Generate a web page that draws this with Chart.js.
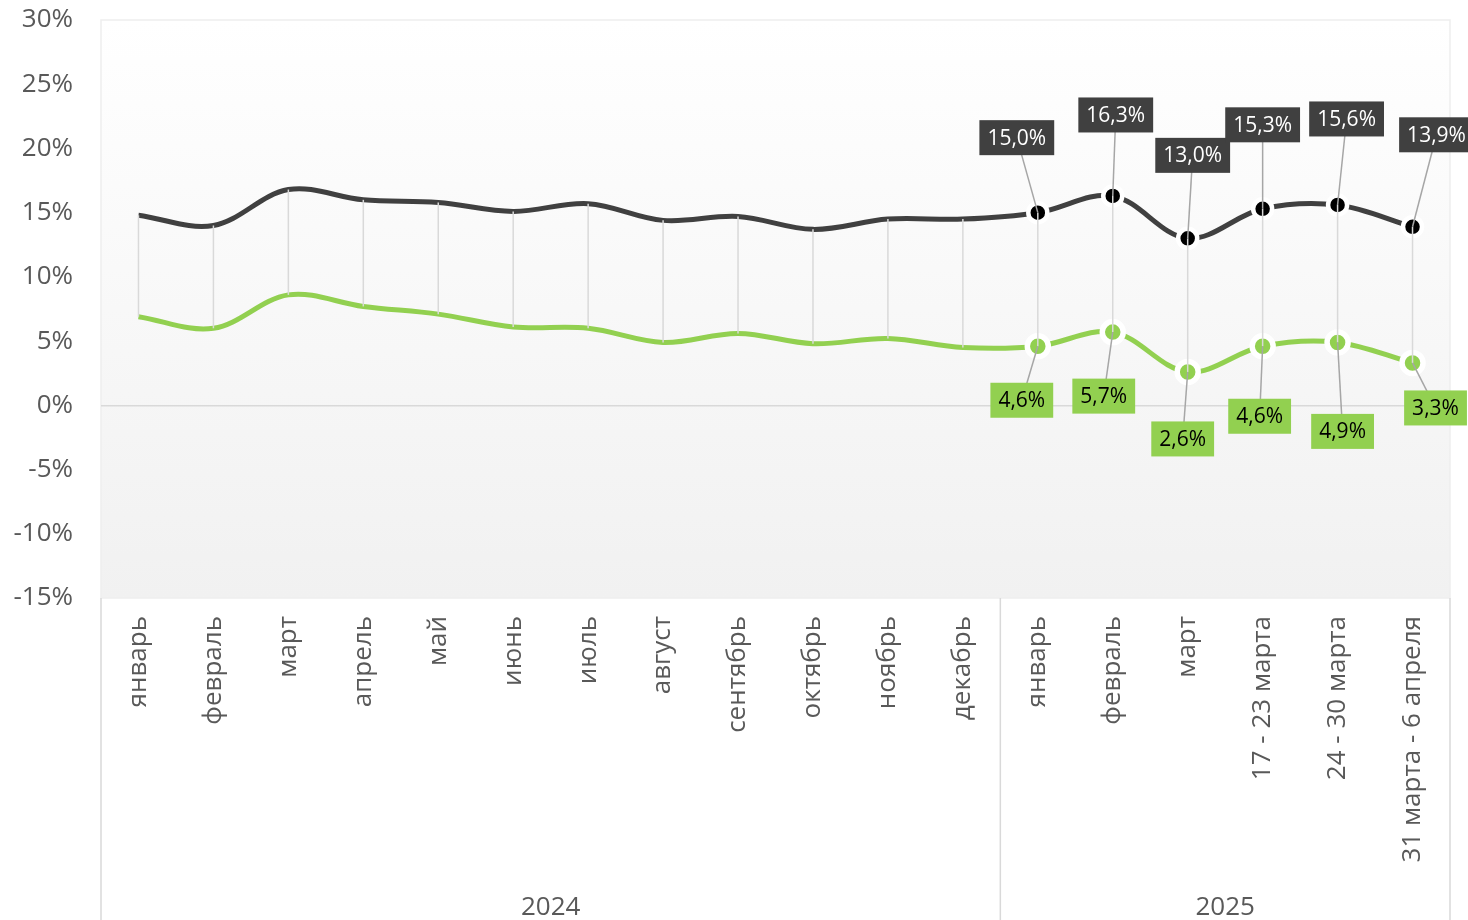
<!DOCTYPE html>
<html>
<head>
<meta charset="utf-8">
<script src="https://cdn.jsdelivr.net/npm/chart.js@4.4.1/dist/chart.umd.min.js"></script>
<style>
html,body{margin:0;padding:0;background:#fff;}
canvas{display:block;}
</style>
</head>
<body>
<canvas id="c" width="1468" height="920"></canvas>
<script>
const categories = ['январь','февраль','март','апрель','май','июнь','июль','август','сентябрь','октябрь','ноябрь','декабрь','январь','февраль','март','17 - 23 марта','24 - 30 марта','31 марта - 6 апреля'];
const years = ['2024','2025'];
const yearCounts = [12, 6];
const seriesDark = [14.8,14.0,16.8,16.0,15.8,15.1,15.7,14.4,14.7,13.7,14.5,14.5,15.0,16.3,13.0,15.3,15.6,13.9];
const seriesGreen = [6.9,6.0,8.6,7.7,7.1,6.1,6.0,4.9,5.6,4.8,5.2,4.5,4.6,5.7,2.6,4.6,4.9,3.3];
const yTicks = [-15,-10,-5,0,5,10,15,20,25,30];
const labeledFrom = 12;

// label placement (offsets from point, px)
const darkLabelOffsets = [[-21,-75],[3,-81],[5,-83],[0,-84],[9,-86],[24,-92]];
const greenLabelOffsets = [[-16,54],[-9,64],[-5,67],[-3,70],[5,89],[23,45]];

const DARK = '#404040', GREEN = '#92d050', TEXT = '#595959', GRID = '#d9d9d9';
const FONT = '"Open Sans", sans-serif';

function fmt(v){ return v.toFixed(1).replace('.', ',') + '%'; }

const bgPlugin = {
  id: 'bg',
  beforeDraw(chart){
    const {ctx, chartArea:a} = chart;
    const g = ctx.createLinearGradient(0, a.top, 0, a.bottom);
    g.addColorStop(0, '#ffffff');
    g.addColorStop(1, '#f1f1f1');
    ctx.save();
    ctx.fillStyle = g;
    ctx.fillRect(a.left, a.top, a.right - a.left, a.bottom - a.top);
    ctx.strokeStyle = '#eeeeee';
    ctx.lineWidth = 1.5;
    ctx.strokeRect(a.left, a.top, a.right - a.left, a.bottom - a.top);
    ctx.restore();
  }
};

const overlayPlugin = {
  id: 'overlay',
  afterDatasetsDraw(chart){
    const {ctx, chartArea:a, scales:{x, y}} = chart;
    ctx.save();
    ctx.strokeStyle = GRID;
    ctx.lineWidth = 1.5;
    for (let i = 0; i < categories.length; i++){
      const px = x.getPixelForValue(i);
      ctx.beginPath();
      ctx.moveTo(px, y.getPixelForValue(seriesDark[i]));
      ctx.lineTo(px, y.getPixelForValue(seriesGreen[i]));
      ctx.stroke();
    }
    ctx.font = '21px ' + FONT;
    ctx.textAlign = 'center';
    ctx.textBaseline = 'middle';
    const drawSet = (vals, offs, fill, txtColor) => {
      for (let k = 0; k < offs.length; k++){
        const i = labeledFrom + k;
        const px = x.getPixelForValue(i), py = y.getPixelForValue(vals[i]);
        const cx = px + offs[k][0], cy = py + offs[k][1];
        ctx.strokeStyle = '#a6a6a6';
        ctx.lineWidth = 1.5;
        ctx.beginPath(); ctx.moveTo(px, py); ctx.lineTo(cx, cy); ctx.stroke();
        const t = fmt(vals[i]);
        const w = ctx.measureText(t).width + 16, h = 35;
        ctx.fillStyle = fill;
        ctx.fillRect(cx - w/2, cy - h/2, w, h);
        ctx.fillStyle = txtColor;
        ctx.fillText(t, cx, cy + 1);
      }
    };
    drawSet(seriesDark, darkLabelOffsets, DARK, '#ffffff');
    drawSet(seriesGreen, greenLabelOffsets, GREEN, '#000000');
    ctx.restore();
  },
  afterDraw(chart){
    const {ctx, chartArea:a, scales:{x}} = chart;
    const H = chart.height;
    ctx.save();
    ctx.strokeStyle = GRID;
    ctx.lineWidth = 1.5;
    ctx.font = '26px ' + FONT;
    ctx.fillStyle = TEXT;
    ctx.textAlign = 'center';
    ctx.textBaseline = 'middle';
    let start = 0;
    const n = categories.length;
    const bounds = [a.left];
    for (let g = 0; g < years.length; g++){
      const end = start + yearCounts[g] - 1;
      const right = end === n - 1 ? a.right : (x.getPixelForValue(end) + x.getPixelForValue(end + 1)) / 2;
      bounds.push(right);
      ctx.fillText(years[g], (bounds[g] + right) / 2, 908);
      start = end + 1;
    }
    for (const bx of bounds){
      ctx.beginPath(); ctx.moveTo(bx, a.bottom); ctx.lineTo(bx, H); ctx.stroke();
    }
    ctx.restore();
  }
};

new Chart(document.getElementById('c'), {
  type: 'line',
  data: {
    labels: categories,
    datasets: [
      {
        data: seriesDark,
        borderColor: DARK,
        borderWidth: 5,
        tension: 0.35,
        pointRadius: c => c.dataIndex >= labeledFrom ? 9.5 : 0,
        pointBackgroundColor: '#000000',
        pointBorderColor: '#ffffff',
        pointBorderWidth: 4.5,
        pointHoverRadius: c => c.dataIndex >= labeledFrom ? 9.5 : 0
      },
      {
        data: seriesGreen,
        borderColor: GREEN,
        borderWidth: 5,
        tension: 0.35,
        pointRadius: c => c.dataIndex >= labeledFrom ? 10.5 : 0,
        pointBackgroundColor: GREEN,
        pointBorderColor: '#ffffff',
        pointBorderWidth: 5.5,
        pointHoverRadius: c => c.dataIndex >= labeledFrom ? 10.5 : 0
      }
    ]
  },
  options: {
    responsive: false,
    animation: false,
    events: [],
    layout: { padding: { top: 20, right: 18, left: 0, bottom: 0 } },
    plugins: { legend: { display: false }, tooltip: { enabled: false } },
    scales: {
      x: {
        offset: true,
        grid: { display: false, drawTicks: false },
        border: { display: false },
        ticks: {
          minRotation: 90, maxRotation: 90, autoSkip: false,
          padding: 18,
          color: TEXT,
          font: { family: FONT, size: 26 }
        },
        afterFit(s){ s.height = 322; s.paddingLeft = 0; s.paddingRight = 0; }
      },
      y: {
        min: -15, max: 30,
        afterBuildTicks(s){ s.ticks = yTicks.map(v => ({value: v})); },
        grid: {
          drawTicks: false,
          color: c => c.tick && c.tick.value === 0 ? GRID : 'rgba(0,0,0,0)',
          lineWidth: 1.5
        },
        border: { display: false },
        ticks: {
          padding: 28,
          color: TEXT,
          font: { family: FONT, size: 26 },
          callback: v => v + '%'
        },
        afterFit(s){ s.width = 101; s.paddingTop = 0; s.paddingBottom = 0; }
      }
    }
  },
  plugins: [bgPlugin, overlayPlugin]
});
</script>
</body>
</html>
